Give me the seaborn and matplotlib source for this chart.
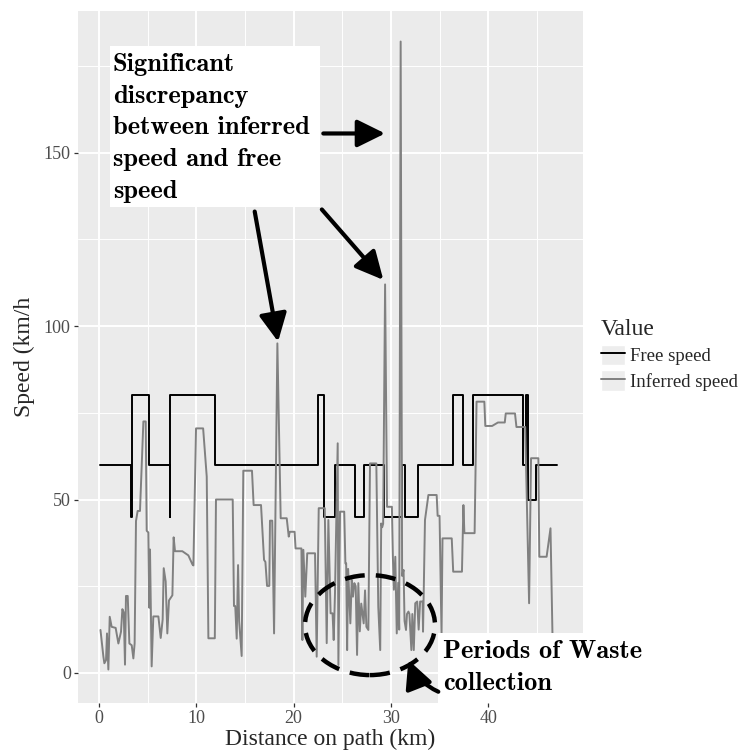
import numpy as np
import pandas as pd
import matplotlib
matplotlib.use("Agg")
import matplotlib.pyplot as plt
import seaborn as sns
from matplotlib.patches import Rectangle, Ellipse, FancyArrowPatch
from matplotlib.lines import Line2D

# ---------------- data ----------------
free_dist = [0.15, 3.3, 3.3, 3.38, 3.38, 5.1, 5.1, 7.3, 7.3, 7.33, 7.33, 11.9, 11.9,
             22.47, 22.47, 23.12, 23.12, 24.25, 24.25, 26.3, 26.3, 27.2, 27.2,
             29.3, 29.3, 31.1, 31.1, 31.4, 31.4, 32.75, 32.75, 36.35, 36.35,
             37.45, 37.45, 38.4, 38.4, 43.6, 43.6, 43.9, 43.9, 44.05, 44.05,
             44.9, 44.9, 47.05]
free_speed = [60, 60, 45, 45, 80, 80, 60, 60, 45, 45, 80, 80, 60,
              60, 80, 80, 45, 45, 60, 60, 45, 45, 60,
              60, 45, 45, 60, 60, 45, 45, 60, 60, 80,
              80, 60, 60, 80, 80, 60, 60, 80, 80, 50,
              50, 60, 60]

inf_dist = [0.15, 0.45, 0.55, 0.72, 0.82, 0.96, 1.10, 1.30, 1.71, 1.99, 2.26, 2.40, 2.54,
            2.67, 2.77, 2.95, 3.12, 3.36, 3.53, 3.66, 3.80, 3.97, 4.21, 4.56, 4.80, 4.90,
            5.07, 5.17, 5.24, 5.41, 5.58, 6.10, 6.34, 6.54, 6.65, 6.85, 7.02, 7.19, 7.54,
            7.67, 7.81, 8.56, 9.18, 9.6, 9.7, 9.97, 10.7, 11.07, 11.24, 11.9, 12.02,
            13.74, 13.87, 14.0, 14.15, 14.29, 14.4, 14.66, 14.83, 15.72, 15.89, 16.65,
            16.96, 17.1, 17.27, 17.5, 17.57, 17.8, 17.99, 18.33, 18.67, 19.29, 19.5,
            19.6, 20.1, 20.2, 20.8, 20.9, 21.0, 21.2, 21.4, 22.2, 22.37, 22.58, 23.2,
            23.4, 23.57, 23.8, 24.0, 24.12, 24.25, 24.53, 24.6, 24.77, 25.2, 25.32,
            25.4, 25.5, 25.6, 25.83, 25.97, 26.1, 26.24, 26.38, 26.52, 26.65, 26.8,
            26.95, 27.07, 27.2, 27.34, 27.48, 27.68, 27.85, 28.5, 28.7, 28.9, 29.0,
            29.1, 29.2, 29.4, 29.6, 30.1, 30.2, 30.3, 30.45, 30.6, 30.75, 30.85,
            31.0, 31.15, 31.3, 31.4, 31.55, 31.65, 31.8, 31.9, 32.1, 32.2, 32.35,
            32.5, 32.7, 32.85, 33.0, 33.25, 33.3, 33.5, 33.85, 34.7, 34.8, 35.0,
            35.2, 35.3, 36.25, 36.4, 37.3, 37.45, 37.55, 38.6, 38.8, 39.6, 39.7,
            40.4, 41.0, 41.7, 41.8, 42.75, 42.9, 43.8, 44.2, 44.4, 45.15, 45.25,
            46.0, 46.4, 46.6, 46.75]
inf_speed = [12.4, 4.7, 2.8, 3.7, 11.4, 1.0, 16.2, 13.3, 13.0, 8.5, 11.9, 18.4, 17.5,
             2.4, 22.2, 22.2, 8.5, 8.0, 4.2, 8.5, 43.8, 46.7, 46.7, 72.5, 72.5, 41.0,
             40.5, 18.8, 35.6, 1.9, 16.3, 16.3, 10.1, 15.4, 30.2, 26.4, 11.4, 20.9, 22.4,
             39.1, 35.1, 35.1, 33.9, 31.3, 31.0, 70.5, 70.5, 56.6, 10.0, 10.0, 50.0,
             50.0, 19.3, 19.3, 9.9, 31.1, 15.0, 4.9, 58.3, 58.3, 48.4, 48.4,
             32.6, 32.0, 25.1, 25.1, 43.9, 43.9, 11.4, 95.0, 44.6, 44.6, 39.3,
             40.7, 40.7, 35.9, 35.9, 9.5, 35.5, 22.0, 34.5, 34.5, 4.7, 47.5, 47.5,
             8.6, 44.1, 17.2, 17.2, 9.5, 22.9, 66.2, 2.3, 46.5, 46.5, 31.6,
             31.6, 6.6, 30.0, 14.3, 26.8, 22.0, 25.9, 25.0, 5.2, 25.9, 12.0,
             20.0, 17.2, 14.3, 23.8, 13.3, 12.4, 60.4, 60.4, 19.1, 6.6, 43.1,
             42.0, 43.0, 112.0, 47.9, 47.9, 33.5, 24.0, 33.5, 11.4, 26.0, 12.5,
             182.0, 28.0, 29.7, 15.0, 12.4, 17.0, 17.7, 17.0, 6.6, 17.0, 6.6,
             20.1, 20.6, 12.5, 20.6, 20.6, 11.9, 44.1, 51.3, 51.3, 45.3, 45.3,
             10.5, 38.8, 38.8, 29.2, 29.2, 48.4, 40.3, 40.3, 78.2, 78.2, 71.2,
             71.2, 72.2, 72.2, 74.8, 74.8, 70.9, 70.9, 20.1, 61.9, 61.9, 33.5,
             33.5, 41.7, 11.4, 5.0]

series_names = ["Free speed", "Inferred speed"]
series_colors = ["#000000", "#808080"]
x_ticks = [0, 10, 20, 30, 40]
y_ticks = [0, 50, 100, 150]

df = pd.concat([
    pd.DataFrame({"dist": free_dist, "speed": free_speed, "Value": series_names[0]}),
    pd.DataFrame({"dist": inf_dist, "speed": inf_speed, "Value": series_names[1]}),
], ignore_index=True)

# ---------------- style ----------------
sns.set_theme()
plt.rcParams["font.family"] = ["Liberation Serif", "DejaVu Serif"]

fig = plt.figure(figsize=(7.5, 7.55), dpi=100)
ax = fig.add_axes([78 / 750, 52 / 755, 505 / 750, 692 / 755])
ax.set_facecolor("#EBEBEB")
for s in ax.spines.values():
    s.set_visible(False)

sns.lineplot(data=df, x="dist", y="speed", hue="Value",
             palette=dict(zip(series_names, series_colors)),
             estimator=None, sort=False, lw=1.4, ax=ax, legend=False, zorder=3)

ax.set_xlim(-2.16, 49.74)
ax.set_ylim(-8.65, 190.8)
ax.set_xticks(x_ticks)
ax.set_yticks(y_ticks)
ax.set_xticks([5, 15, 25, 35, 45], minor=True)
ax.set_yticks([25, 75, 125, 175], minor=True)
ax.grid(which="major", color="white", lw=1.4)
ax.grid(which="minor", color="white", lw=0.7)
ax.set_axisbelow(True)
ax.tick_params(which="major", length=3.2, width=0.9, color="#333333",
               labelsize=13, labelcolor="#4D4D4D", pad=2, bottom=True, left=True)
ax.tick_params(which="minor", length=0)
ax.set_xlabel("Distance on path (km)", fontsize=17, labelpad=1)
ax.set_ylabel("Speed (km/h", fontsize=17, labelpad=6)

# ---------------- legend ----------------
handles = []
for c in series_colors:
    bg = Rectangle((0, 0), 1, 1, facecolor="#EDEDED", edgecolor="white", lw=1)
    ln = Line2D([], [], color=c, lw=1.4)
    handles.append((bg, ln))
leg = fig.legend(handles, series_names, title="Value", loc="upper left",
                 bbox_to_anchor=(601 / 750, 1 - 319 / 755), frameon=False,
                 fontsize=13.5, title_fontsize=17, handlelength=1.3, handleheight=1.33,
                 handletextpad=0.25, labelspacing=0.25, borderpad=0, borderaxespad=0)
leg._legend_box.align = "left"

# ---------------- annotations ----------------
ann_font = dict(family="cmb10", fontsize=19, color="black", zorder=7, clip_on=False)

ax.add_patch(Rectangle((1.13, 134.3), 21.57, 46.4, facecolor="white",
                       edgecolor="none", zorder=6))
lines1 = ["Significant", "discrepancy", "between inferred", "speed and free", "speed"]
for t, yb in zip(lines1, [173.5, 164.4, 155.3, 146.1, 137.0]):
    ax.text(1.42, yb, t, ha="left", va="baseline", **ann_font)

arrow_kw = dict(arrowstyle="-|>,head_length=0.85,head_width=0.42", mutation_scale=20,
                color="black", lw=3.0, shrinkA=0, shrinkB=0, zorder=7)
for (x0, y0), (x1, y1) in [((23.05, 155.5), (29.4, 155.5)),
                           ((16.0, 133.0), (18.4, 95.5)),
                           ((22.9, 133.6), (29.22, 113.3))]:
    ax.add_patch(FancyArrowPatch((x0, y0), (x1, y1), **arrow_kw))

ax.add_patch(Ellipse((27.85, 13.8), 13.36, 28.8, facecolor="none", edgecolor="black",
                     lw=3.2, linestyle=(0, (4.5, 2.5)), zorder=7))

ax.add_patch(Rectangle((34.84, -8.65), 22.0, 20.15, facecolor="white",
                       edgecolor="none", zorder=6, clip_on=False))
for t, yb in zip(["Periods of Waste", "collection"], [4.24, -4.9]):
    ax.text(35.35, yb, t, ha="left", va="baseline", **ann_font)
ax.add_patch(FancyArrowPatch((34.87, -5.4), (31.79, 3.75),
                             connectionstyle="arc3,rad=-0.2", clip_on=False, **arrow_kw))

fig.savefig("out.png", dpi=100)
